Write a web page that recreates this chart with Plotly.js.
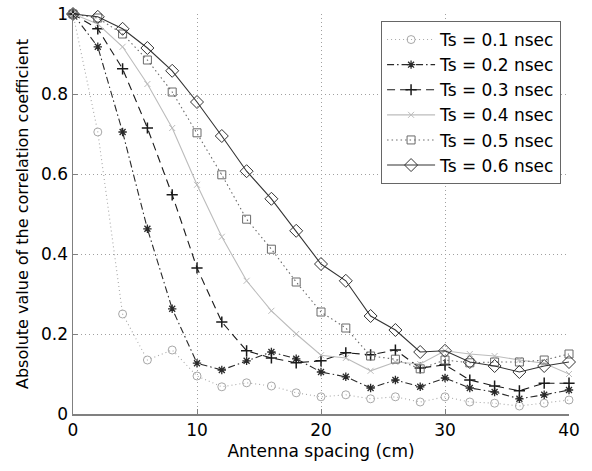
<!DOCTYPE html>
<html>
<head>
<meta charset="utf-8">
<script src="https://cdn.plot.ly/plotly-3.0.1.min.js"></script>
<style>html,body{margin:0;padding:0;background:#fff;}#chart{width:592px;height:471px;}</style>
</head>
<body>
<div id="chart"></div>
<script>
const spacing = [0,2,4,6,8,10,12,14,16,18,20,22,24,26,28,30,32,34,36,38,40];
const seriesNames = ["Ts = 0.1 nsec","Ts = 0.2 nsec","Ts = 0.3 nsec","Ts = 0.4 nsec","Ts = 0.5 nsec","Ts = 0.6 nsec"];
const ts01 = [1.0,0.705,0.25,0.135,0.16,0.095,0.068,0.078,0.07,0.053,0.043,0.048,0.038,0.043,0.03,0.043,0.03,0.027,0.02,0.027,0.035];
const ts02 = [1.0,0.918,0.705,0.463,0.263,0.127,0.11,0.133,0.155,0.138,0.105,0.093,0.065,0.085,0.068,0.09,0.065,0.055,0.038,0.048,0.06];
const ts03 = [1.0,0.963,0.863,0.715,0.548,0.365,0.23,0.158,0.14,0.128,0.133,0.153,0.148,0.16,0.115,0.123,0.085,0.07,0.058,0.077,0.077];
const ts04 = [1.0,0.975,0.918,0.825,0.715,0.573,0.443,0.333,0.258,0.2,0.147,0.14,0.108,0.13,0.125,0.158,0.15,0.145,0.135,0.127,0.10];
const ts05 = [1.0,0.99,0.95,0.885,0.805,0.703,0.598,0.487,0.412,0.33,0.255,0.215,0.145,0.137,0.113,0.135,0.128,0.13,0.13,0.135,0.15];
const ts06 = [1.0,0.993,0.963,0.915,0.858,0.78,0.695,0.607,0.538,0.458,0.375,0.333,0.245,0.21,0.155,0.158,0.13,0.12,0.105,0.12,0.13];
const xTicks = [0,10,20,30,40];
const yTicks = [0,0.2,0.4,0.6,0.8,1];
const yTickText = ["0","0.2","0.4","0.6","0.8","1"];

const values = [ts01, ts02, ts03, ts04, ts05, ts06];
const styles = [
  {color:"#a8a8a8", dash:"1px,3px", symbol:"circle-open", size:8, mw:1},
  {color:"#2a2a2a", dash:"7px,3px,1.5px,3px", symbol:"asterisk-open", size:7, mw:1.3},
  {color:"#1a1a1a", dash:"8px,5px", symbol:"cross-thin-open", size:8, mw:1.5},
  {color:"#bcbcbc", dash:"solid", symbol:"x-thin-open", size:6, mw:1},
  {color:"#6a6a6a", dash:"1.5px,3px", symbol:"square-open", size:8, mw:1},
  {color:"#333333", dash:"solid", symbol:"diamond-open", size:10, mw:1}
];
const FONT = "DejaVu Sans, Arial, sans-serif";
const traces = values.map((v,i) => ({
  x: spacing, y: v, name: seriesNames[i], type: "scatter", mode: "lines+markers",
  cliponaxis: false,
  line: {color: styles[i].color, dash: styles[i].dash, width: 1.1},
  marker: {symbol: styles[i].symbol, size: styles[i].size, color: styles[i].color,
           line: {color: styles[i].color, width: styles[i].mw}}
}));
const layout = {
  width: 592, height: 471,
  margin: {l: 73, r: 23, t: 14, b: 57},
  paper_bgcolor: "#fff", plot_bgcolor: "#fff",
  font: {family: FONT, size: 16, color: "#000"},
  showlegend: true,
  legend: {x: 0.984, y: 0.9825, xanchor: "right", yanchor: "top",
           bgcolor: "#fff", bordercolor: "#666", borderwidth: 1, itemwidth: 48,
           font: {family: FONT, size: 17, color: "#000"}, tracegroupgap: 0},
  xaxis: {range: [0, 40], tickvals: xTicks, ticktext: xTicks.map(String),
          ticks: "inside", ticklen: 5, tickcolor: "#808080",
          showline: true, linecolor: "#808080", linewidth: 1.5,
          showgrid: true, gridcolor: "#a0a0a0", griddash: "1px,3px", gridwidth: 1,
          zeroline: false, tickfont: {size: 17},
          title: {text: "Antenna spacing (cm)", font: {size: 17}, standoff: 6}},
  yaxis: {range: [0, 1], tickvals: yTicks, ticktext: yTickText,
          ticks: "inside", ticklen: 5, tickcolor: "#808080",
          showline: true, linecolor: "#808080", linewidth: 1.5,
          showgrid: true, gridcolor: "#a0a0a0", griddash: "1px,3px", gridwidth: 1,
          zeroline: false, tickfont: {size: 17},
          title: {text: "Absolute value of the correlation coefficient", font: {size: 16}, standoff: 8}}
};
Plotly.newPlot("chart", traces, layout, {displayModeBar: false, staticPlot: true});
</script>
</body>
</html>
